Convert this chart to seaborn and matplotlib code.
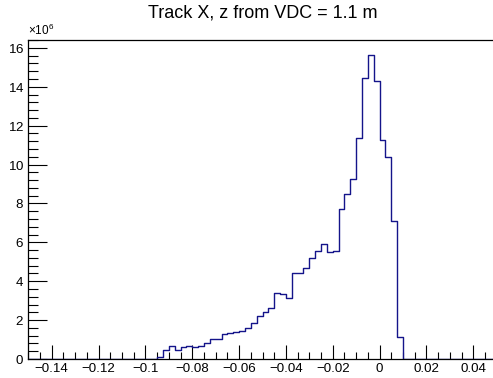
import numpy as np
import pandas as pd
import matplotlib
matplotlib.use("Agg")
import matplotlib.pyplot as plt
from matplotlib.ticker import MultipleLocator, FixedLocator, FuncFormatter
import seaborn as sns

# Histogram binning: 80 bins of 0.0025 between -0.15 and 0.05
x_min, x_max, n_bins = -0.15, 0.05, 80
first_filled_bin = 22

# Bin contents (in millions of entries) for bins 22..63; all others are empty
counts_millions = [
    0.12, 0.46, 0.67, 0.45, 0.60, 0.67, 0.63, 0.69, 0.84, 1.05,
    1.02, 1.30, 1.32, 1.37, 1.44, 1.61, 1.83, 2.21, 2.43, 2.61,
    3.41, 3.34, 3.12, 4.41, 4.41, 4.66, 5.18, 5.57, 5.92, 5.49,
    5.54, 7.70, 8.47, 9.24, 11.39, 14.44, 15.65, 14.32, 11.27, 10.37,
    7.10, 1.15,
]

x_tick_values = [-0.14, -0.12, -0.1, -0.08, -0.06, -0.04, -0.02, 0, 0.02, 0.04]
y_tick_values = [0, 2, 4, 6, 8, 10, 12, 14, 16]
title = "Track X, z from VDC = 1.1 m"

edges = np.linspace(x_min, x_max, n_bins + 1)
centers = 0.5 * (edges[:-1] + edges[1:])
contents = np.zeros(n_bins)
contents[first_filled_bin:first_filled_bin + len(counts_millions)] = counts_millions
df = pd.DataFrame({"x": centers, "w": contents * 1e6})

sns.set_style("white")
plt.rcParams["font.family"] = ["Liberation Sans", "DejaVu Sans"]
plt.rcParams["mathtext.fontset"] = "custom"
plt.rcParams["mathtext.rm"] = "Liberation Sans"
plt.rcParams["axes.unicode_minus"] = True
for key in ["text.color", "xtick.color", "ytick.color", "axes.labelcolor",
            "axes.edgecolor"]:
    plt.rcParams[key] = "black"

fig = plt.figure(figsize=(4.93, 3.78), dpi=100)
ax = fig.add_axes([28.3 / 493, 19 / 378, (496.7 - 28.3) / 493, (359 - 39.5) / 378])

sns.histplot(data=df, x="x", weights="w", bins=n_bins, binrange=(x_min, x_max),
             element="step", fill=False, color="#14148a", linewidth=1.0, ax=ax)

ax.set_xlim(x_min, x_max)
ax.set_ylim(0, 1.05 * max(counts_millions) * 1e6)
ax.set_xlabel("")
ax.set_ylabel("")

for side in ["left", "bottom", "top"]:
    ax.spines[side].set_visible(True)
    ax.spines[side].set_color("black")
    ax.spines[side].set_linewidth(0.9)
ax.spines["right"].set_visible(False)

# x axis: major every 0.02, minor every 0.005, ticks drawn inwards
ax.xaxis.set_major_locator(FixedLocator(x_tick_values))
ax.xaxis.set_minor_locator(MultipleLocator(0.005))


def fmt_x(v, pos):
    s = "%g" % round(v, 4)
    if s.startswith("-"):
        s = "\u2212" + s[1:]
    if s == "\u22120":
        s = "0"
    return s


ax.xaxis.set_major_formatter(FuncFormatter(fmt_x))

# y axis: labels in units of 10^6
ax.yaxis.set_major_locator(FixedLocator([v * 1e6 for v in y_tick_values]))
ax.yaxis.set_minor_locator(MultipleLocator(0.4e6))
ax.ticklabel_format(axis="y", style="sci", scilimits=(6, 6), useMathText=True)

ax.tick_params(axis="x", which="major", direction="in", length=10, width=0.8,
               labelsize=9.6, pad=3, bottom=True, top=False, colors="black")
ax.tick_params(axis="x", which="minor", direction="in", length=5, width=0.8,
               bottom=True, top=False, colors="black")
ax.tick_params(axis="y", which="major", direction="in", length=14, width=0.8,
               labelsize=9.6, pad=3, left=True, right=False, colors="black")
ax.tick_params(axis="y", which="minor", direction="in", length=7, width=0.8,
               left=True, right=False, colors="black")
ax.yaxis.get_offset_text().set_fontsize(8.5)
ax.yaxis.get_offset_text().set_color("black")

fig.text((28.3 + 496.7) / 2 / 493, 1 - 12.5 / 378, title, ha="center",
         va="center", fontsize=13, color="black")

fig.savefig("out.png", dpi=100)
